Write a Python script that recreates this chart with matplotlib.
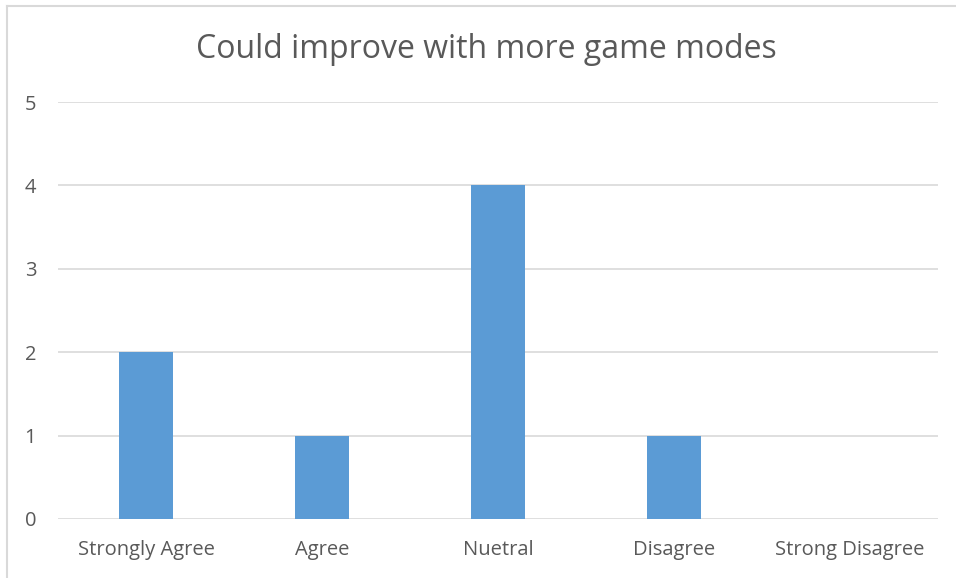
import matplotlib
matplotlib.use("Agg")
import matplotlib.pyplot as plt
from matplotlib.lines import Line2D

categories = ["Strongly Agree", "Agree", "Nuetral", "Disagree", "Strong Disagree"]
counts = [2, 1, 4, 1, 0]
y_ticks = [0, 1, 2, 3, 4, 5]
title = "Could improve with more game modes"

plt.rcParams["font.family"] = ["Open Sans", "DejaVu Sans"]
text_color = "#595959"
grid_color = "#D9D9D9"
bar_color = "#5B9BD5"

fig = plt.figure(figsize=(9.56, 5.78), dpi=100)
ax = fig.add_axes([58 / 956, 1 - 519 / 578, 880 / 956, 417 / 578])

x = list(range(len(categories)))
ax.bar(x, counts, width=0.31, color=bar_color, zorder=3)

ax.set_xlim(-0.5, len(categories) - 0.5)
ax.set_ylim(0, 5)
ax.set_yticks(y_ticks)
ax.set_yticklabels([str(t) for t in y_ticks])
ax.set_xticks(x)
ax.set_xticklabels(categories)
ax.yaxis.grid(True, color=grid_color, linewidth=1.2, zorder=0)
ax.tick_params(axis="both", length=0, labelsize=14.5, labelcolor=text_color)
ax.tick_params(axis="y", pad=24)
ax.tick_params(axis="x", pad=15)
for lbl in ax.get_yticklabels():
    lbl.set_horizontalalignment("left")
for s in ax.spines.values():
    s.set_visible(False)

fig.text(486 / 956, 1 - 49 / 578, title, ha="center", va="center",
         fontsize=23, color=text_color)

# chart frame
fig.add_artist(Line2D([7 / 956, 7 / 956], [0, 1 - 6 / 578],
                      transform=fig.transFigure, color=grid_color, linewidth=1.5))
fig.add_artist(Line2D([7 / 956, 1], [1 - 6 / 578, 1 - 6 / 578],
                      transform=fig.transFigure, color=grid_color, linewidth=1.5))

fig.savefig("out.png", dpi=100)
